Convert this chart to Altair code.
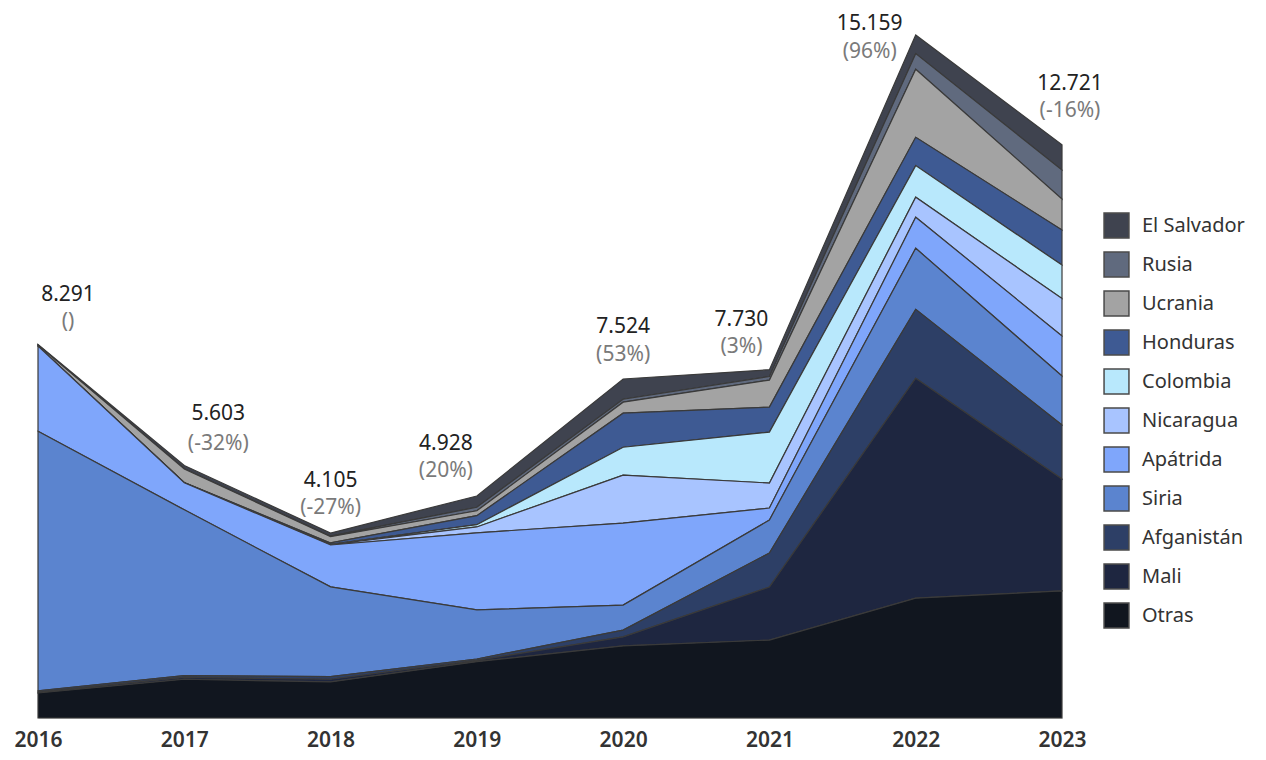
import altair as alt
import pandas as pd

years = [2016, 2017, 2018, 2019, 2020, 2021, 2022, 2023]

# legend order (top -> bottom)
paises = ["El Salvador", "Rusia", "Ucrania", "Honduras", "Colombia",
          "Nicaragua", "Apátrida", "Siria", "Afganistán", "Mali", "Otras"]
colores = ["#3f434f", "#606a7e", "#a3a3a3", "#3e5a93", "#b8e8fc",
           "#a8c4ff", "#7fa6fb", "#5b84cf", "#2d3f66", "#1e2640", "#11161f"]

el_salvador = [10, 70, 70, 250, 450, 150, 414, 561]
rusia       = [6, 8, 10, 78, 64, 80, 345, 643]
ucrania     = [20, 300, 140, 110, 245, 599, 1510, 688]
honduras    = [0, 5, 30, 200, 755, 555, 630, 777]
colombia    = [0, 0, 5, 50, 620, 1131, 700, 743]
nicaragua   = [0, 0, 10, 130, 1065, 555, 445, 832]
apatrida    = [1890, 600, 930, 1710, 1820, 266, 690, 888]
siria       = [5760, 3680, 1990, 1090, 555, 733, 1355, 1087]
afganistan  = [30, 40, 60, 30, 150, 754, 1530, 1199]
mali        = [20, 40, 60, 30, 200, 1177, 4880, 2483]
otras       = [555, 860, 800, 1250, 1600, 1730, 2660, 2820]

totales = [8291, 5603, 4105, 4928, 7524, 7730, 15159, 12721]
totales_txt = ["8.291", "5.603", "4.105", "4.928", "7.524", "7.730", "15.159", "12.721"]
variacion_txt = ["()", "(-32%)", "(-27%)", "(20%)", "(53%)", "(3%)", "(96%)", "(-16%)"]

series = [el_salvador, rusia, ucrania, honduras, colombia, nicaragua,
          apatrida, siria, afganistan, mali, otras]

rows = []
for i, (p, vals) in enumerate(zip(paises, series)):
    for y, v in zip(years, vals):
        rows.append({"anio": y, "pais": p, "valor": v, "orden": len(paises) - 1 - i})
df = pd.DataFrame(rows)

lab = pd.DataFrame({"anio": years, "total": totales, "num": totales_txt, "pct": variacion_txt})

FONT = "Noto Sans"

x_scale = alt.Scale(domain=[2016, 2023], nice=False, zero=False)
x_enc = alt.X("anio:Q", scale=x_scale,
              axis=alt.Axis(values=years, format="d", title=None, grid=False, ticks=False,
                            labelFontSize=21, labelFont=FONT, labelColor="#333333",
                            labelFontWeight=600, labelPadding=11, domainColor="#d0d0d0",
                            labelFlush=False))
y_scale = alt.Scale(domain=[0, 15159], nice=False)

area = alt.Chart(df).mark_area(stroke="#3a3a3a", strokeWidth=1.2, opacity=1).encode(
    x=x_enc,
    y=alt.Y("valor:Q", stack="zero", scale=y_scale, axis=None),
    color=alt.Color("pais:N", scale=alt.Scale(domain=paises, range=colores),
                    legend=alt.Legend(title=None, orient="none", legendX=1065, legendY=177,
                                      symbolType="square", symbolSize=620,
                                      symbolStrokeColor="#4a4a4a", symbolStrokeWidth=1.5,
                                      symbolOpacity=1, labelFontSize=20, labelFont=FONT,
                                      labelColor="#333333", rowPadding=8, labelOffset=12,
                                      padding=0)),
    order=alt.Order("orden:Q", sort="ascending"),
)

# label offsets per year: (dx, dy number, dy percent)
offs = {2016: (30, -49, -22), 2017: (34, -52, -22), 2018: (0, -52, -25),
        2019: (-31, -52, -25), 2020: (0, -52, -24), 2021: (-28, -50, -23),
        2022: (-46, -11, 17), 2023: (8, -61, -34)}

layers = [area]
for yr in years:
    dx, dyn, dyp = offs[yr]
    base = alt.Chart(lab).transform_filter(alt.datum.anio == yr)
    layers.append(base.mark_text(dx=dx, dy=dyn, fontSize=21, font=FONT, color="#222222",
                                 baseline="middle", align="center").encode(
        x=alt.X("anio:Q", scale=x_scale),
        y=alt.Y("total:Q", scale=y_scale), text="num:N"))
    layers.append(base.mark_text(dx=dx, dy=dyp, fontSize=21, font=FONT, color="#7a7a7a",
                                 baseline="middle", align="center").encode(
        x=alt.X("anio:Q", scale=x_scale),
        y=alt.Y("total:Q", scale=y_scale), text="pct:N"))

chart = alt.layer(*layers).properties(
    width=1024, height=683,
    autosize=alt.AutoSizeParams(type="none"),
    padding={"left": 30, "top": 27, "right": 194, "bottom": 34},
).configure_view(stroke=None)

chart.save("out.html", embed_options={"renderer": "svg", "actions": False})
